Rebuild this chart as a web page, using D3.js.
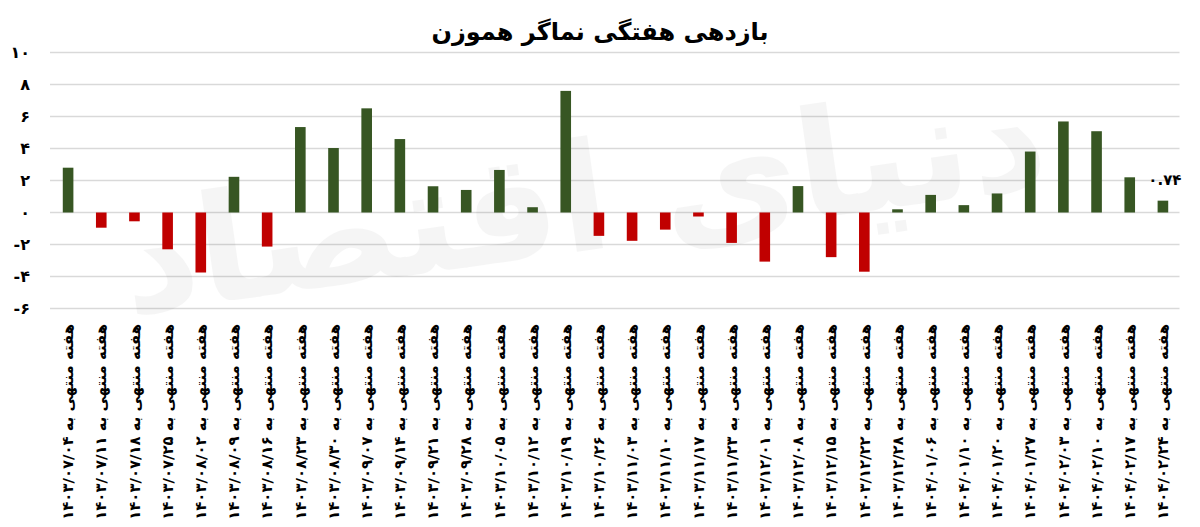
<!DOCTYPE html>
<html>
<head>
<meta charset="utf-8">
<script src="https://cdn.jsdelivr.net/npm/d3@7"></script>
<style>
  html, body { margin: 0; padding: 0; background: #ffffff; }
  svg { display: block; }
  text { font-family: "DejaVu Sans", "Noto Sans", sans-serif; }
</style>
</head>
<body>
<svg id="chart" width="1200" height="527"></svg>
<script>
const title = "بازدهی هفتگی نماگر هموزن";
const labelPrefix = "هفته منتهی به ";
const dates = [
  "۱۴۰۳/۰۷/۰۴","۱۴۰۳/۰۷/۱۱","۱۴۰۳/۰۷/۱۸","۱۴۰۳/۰۷/۲۵","۱۴۰۳/۰۸/۰۲","۱۴۰۳/۰۸/۰۹",
  "۱۴۰۳/۰۸/۱۶","۱۴۰۳/۰۸/۲۳","۱۴۰۳/۰۸/۳۰","۱۴۰۳/۰۹/۰۷","۱۴۰۳/۰۹/۱۴","۱۴۰۳/۰۹/۲۱",
  "۱۴۰۳/۰۹/۲۸","۱۴۰۳/۱۰/۰۵","۱۴۰۳/۱۰/۱۲","۱۴۰۳/۱۰/۱۹","۱۴۰۳/۱۰/۲۶","۱۴۰۳/۱۱/۰۳",
  "۱۴۰۳/۱۱/۱۰","۱۴۰۳/۱۱/۱۷","۱۴۰۳/۱۱/۲۳","۱۴۰۳/۱۲/۰۱","۱۴۰۳/۱۲/۰۸","۱۴۰۳/۱۲/۱۵",
  "۱۴۰۳/۱۲/۲۲","۱۴۰۳/۱۲/۲۸","۱۴۰۴/۰۱/۰۶","۱۴۰۴/۰۱/۱۰","۱۴۰۴/۰۱/۲۰","۱۴۰۴/۰۱/۲۷",
  "۱۴۰۴/۰۲/۰۳","۱۴۰۴/۰۲/۱۰","۱۴۰۴/۰۲/۱۷","۱۴۰۴/۰۲/۲۴"
];
const returns = [
  2.80, -0.95, -0.55, -2.30, -3.75, 2.23,
  -2.13, 5.34, 4.03, 6.51, 4.59, 1.64,
  1.41, 2.66, 0.33, 7.60, -1.46, -1.77,
  -1.07, -0.25, -1.90, -3.07, 1.65, -2.79,
  -3.70, 0.20, 1.10, 0.46, 1.19, 3.81,
  5.69, 5.08, 2.20, 0.74
];
const yTicks = [-6, -4, -2, 0, 2, 4, 6, 8, 10];
const labeledIndex = [33];
const watermark = "دنیای اقتصاد";

const faDigits = "۰۱۲۳۴۵۶۷۸۹";
const toFa = s => String(s).replace(/[0-9]/g, d => faDigits[+d]);

const svg = d3.select("#chart");
const x = d3.scaleBand().domain(d3.range(dates.length))
  .range([51.5, 1179.5]).paddingInner(0.68).paddingOuter(0.34);
const y = d3.scaleLinear().domain([-6, 10]).range([308.5, 52.5]);

// gridlines
svg.append("g").selectAll("line").data(yTicks).join("line")
  .attr("x1", 50).attr("x2", 1179.5)
  .attr("y1", d => y(d)).attr("y2", d => y(d))
  .attr("stroke", "#d9d9d9").attr("stroke-width", 1.5);

// watermark
svg.append("text")
  .attr("x", 590).attr("y", 250)
  .attr("text-anchor", "middle")
  .attr("font-size", 150).attr("font-weight", "bold")
  .attr("fill", "#000").attr("opacity", 0.035)
  .attr("transform", "rotate(-8,590,250)")
  .text(watermark);

// y axis labels
const yAxis = d3.axisLeft(y).tickValues(yTicks).tickSize(0).tickPadding(0)
  .tickFormat(d => (d < 0 ? "-" + toFa(Math.abs(d)) : toFa(d)));
const gy = svg.append("g").attr("transform", "translate(30,0)").call(yAxis);
gy.select(".domain").remove();
gy.selectAll("text")
  .attr("font-size", 16).attr("font-weight", "bold").attr("fill", "#000")
  .attr("direction", "ltr");

// bars
svg.append("g").selectAll("rect").data(returns).join("rect")
  .attr("x", (d, i) => x(i))
  .attr("width", x.bandwidth())
  .attr("y", d => y(Math.max(0, d)))
  .attr("height", d => Math.abs(y(d) - y(0)))
  .attr("fill", d => d >= 0 ? "#375623" : "#c00000");

// data label
svg.append("g").selectAll("text").data(labeledIndex).join("text")
  .attr("x", i => x(i) + x.bandwidth() / 2 + 2)
  .attr("y", i => y(returns[i]) - 16)
  .attr("text-anchor", "middle")
  .attr("font-size", 15).attr("font-weight", "bold").attr("fill", "#000")
  .attr("direction", "ltr")
  .text(i => toFa(returns[i].toFixed(2)));

// x axis labels (rotated)
const xAxis = d3.axisBottom(x).tickSize(0).tickPadding(0)
  .tickFormat(i => labelPrefix + dates[i]);
const gx = svg.append("g").attr("transform", "translate(0,324)").call(xAxis);
gx.select(".domain").remove();
const xl = gx.selectAll("text")
  .attr("font-size", 14).attr("font-weight", "bold").attr("fill", "#000")
  .attr("transform", "rotate(-90)")
  .attr("text-anchor", "end")
  .attr("x", 0).attr("y", 0).attr("dy", "0.35em");
// fit label length to ~196px
const targetLen = 196;
const measured = xl.node().getComputedTextLength();
const fs = Math.min(16, 14 * targetLen / measured);
xl.attr("font-size", fs);

// title
svg.append("text")
  .attr("x", 600).attr("y", 40)
  .attr("text-anchor", "middle")
  .attr("font-size", 24).attr("font-weight", "bold").attr("fill", "#000")
  .text(title);
</script>
</body>
</html>
